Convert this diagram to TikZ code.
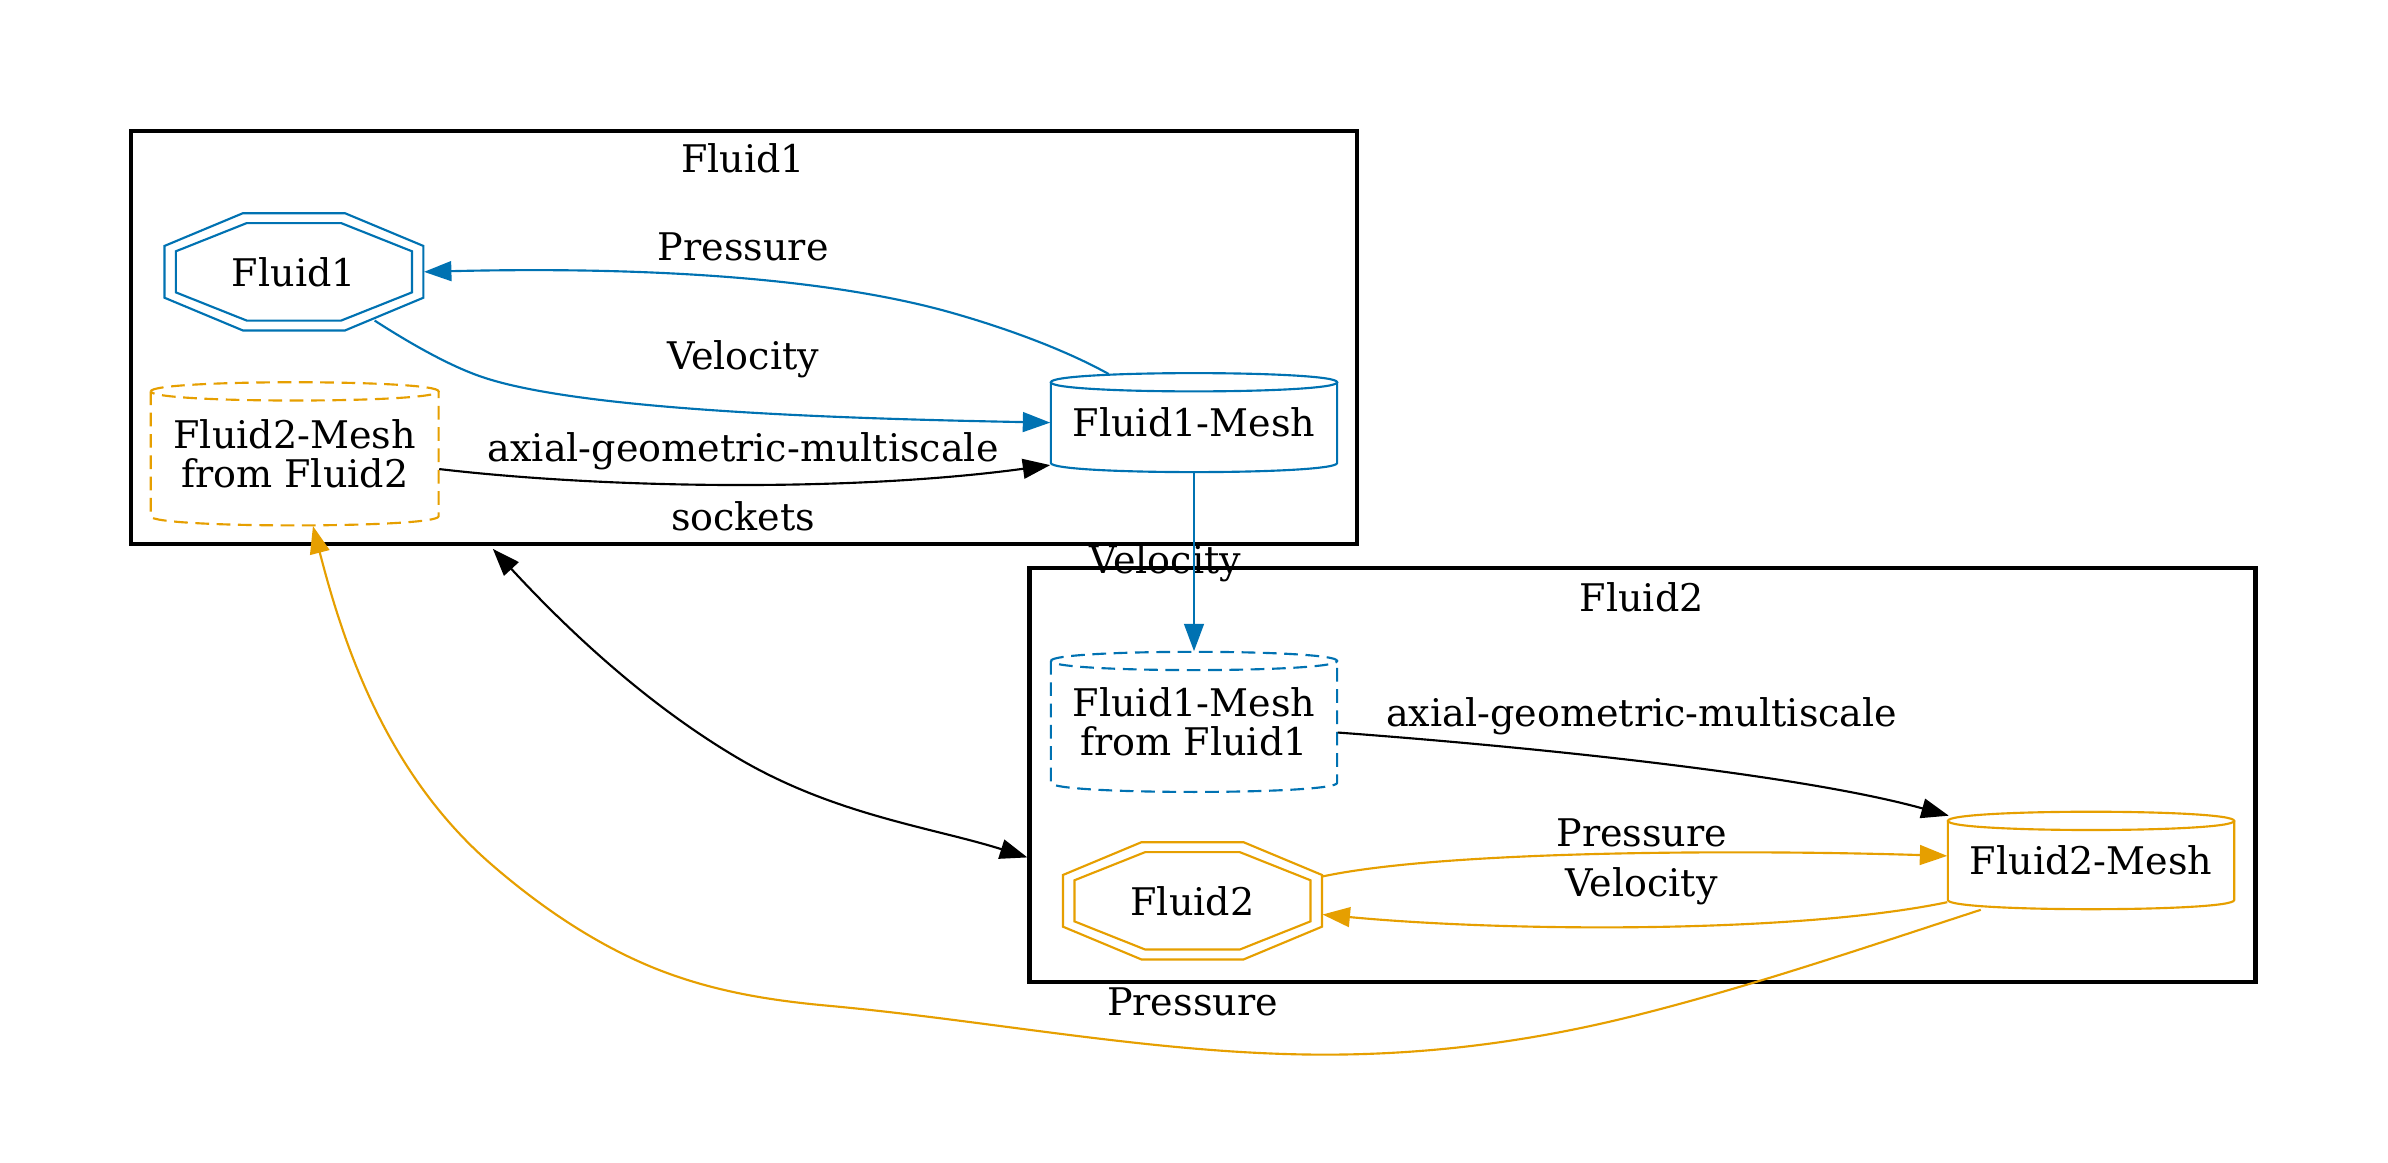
\documentclass[tikz,border=0pt]{standalone}
\usepackage{fontspec}
\setmainfont{DejaVu Serif}
\usetikzlibrary{arrows.meta,calc}
\definecolor{cblue}{HTML}{0072B2}
\definecolor{corange}{HTML}{E69F00}
\newcommand\mycyl[4]{%
 \draw[#4] ($(#1)+({-#2},{-#3+6})$) .. controls ($(#1)+({-#2},{-#3-2})$) and ($(#1)+({#2},{-#3-2})$) .. ($(#1)+({#2},{-#3+6})$) .. controls ($(#1)+({#2},{-#3+14})$) and ($(#1)+({-#2},{-#3+14})$) .. cycle;
 \draw[#4] ($(#1)+({-#2},{-#3+6})$) -- ($(#1)+({-#2},{#3-6})$) .. controls ($(#1)+({-#2},{#3+2})$) and ($(#1)+({#2},{#3+2})$) .. ($(#1)+({#2},{#3-6})$) -- ($(#1)+({#2},{-#3+6})$);
}
\newcommand\myocta[2]{%
 \draw[#2] ($(#1)+(-33.5,-38.5)$) -- ($(#1)+(33.5,-38.5)$) -- ($(#1)+(85,-17)$) -- ($(#1)+(85,17)$) -- ($(#1)+(33.5,38.5)$) -- ($(#1)+(-33.5,38.5)$) -- ($(#1)+(-85,17)$) -- ($(#1)+(-85,-17)$) -- cycle;
 \draw[#2] ($(#1)+(-31,-32)$) -- ($(#1)+(31,-32)$) -- ($(#1)+(77.5,-13.5)$) -- ($(#1)+(77.5,13.5)$) -- ($(#1)+(31,32)$) -- ($(#1)+(-31,32)$) -- ($(#1)+(-77.5,13.5)$) -- ($(#1)+(-77.5,-13.5)$) -- cycle;
}
\begin{document}
\begin{tikzpicture}[x=0.5pt,y=-0.5pt,
  txt/.style={inner sep=0pt,font=\fontsize{12.5}{13}\selectfont,align=center},
  box/.style={txt,shape=rectangle},
  cluster/.style={draw=black,line width=1.4pt,inner sep=0pt,shape=rectangle},
  edge/.style={line width=0.7pt,-{Triangle[length=9pt,width=6.5pt]}},
  bedge/.style={edge,draw=cblue,-{Triangle[length=9pt,width=6.5pt,fill=cblue]}},
  oedge/.style={edge,draw=corange,-{Triangle[length=9pt,width=6.5pt,fill=corange]}},
  bline/.style={draw=cblue,line width=0.7pt},
  oline/.style={draw=corange,line width=0.7pt},
  bdash/.style={bline,dash pattern=on 4.5pt off 2.5pt},
  odash/.style={oline,dash pattern=on 4.5pt off 2.5pt}]
\useasboundingbox[fill=white] (0,0) rectangle (1568,763);
% clusters
\node[cluster,minimum width=402.5pt,minimum height=135.5pt] (c1) at (488.5,221.5) {};
\node[cluster,minimum width=402.5pt,minimum height=136pt] (c2) at (1078.5,509) {};
\node[txt] (c1lab) at (488,104) {Fluid1};
\node[txt] (c2lab) at (1078,392) {Fluid2};
% nodes
\node[box,minimum width=85pt,minimum height=38.5pt] (f1) at (193,178.5) {Fluid1};
\node[box,minimum width=85pt,minimum height=39.5pt] (f2) at (783,591.5) {Fluid2};
\node[box,minimum width=94pt,minimum height=32.5pt] (m1) at (784,277.5) {Fluid1-Mesh};
\node[box,minimum width=94pt,minimum height=32pt] (m2) at (1373,565) {Fluid2-Mesh};
\node[box,minimum width=94.5pt,minimum height=47pt] (m2f) at (193.5,298) {Fluid2-Mesh\\from Fluid2};
\node[box,minimum width=94pt,minimum height=46pt] (m1f) at (784,474) {Fluid1-Mesh\\from Fluid1};
\myocta{f1}{bline}
\myocta{f2}{oline}
\mycyl{m1}{94}{32.5}{bline}
\mycyl{m2}{94}{32}{oline}
\mycyl{m2f}{94.5}{47}{odash}
\mycyl{m1f}{94}{46}{bdash}
% edge labels
\node[txt] (l1) at (488,162) {Pressure};
\node[txt] (l2) at (488,236) {Velocity};
\node[txt] (l3) at (488,296) {axial-geometric-multiscale};
\node[txt] (l4) at (488,339) {sockets};
\node[txt] (l5) at (765,370) {Velocity};
\node[txt] (l6) at (1078,470) {axial-geometric-multiscale};
\node[txt] (l7) at (1078,547) {Pressure};
\node[txt] (l8) at (1078,582) {Velocity};
\node[txt] (l9) at (783,658) {Pressure};
% edges
\draw[bedge] ($(m1.north)+(-56,1)$) .. controls (700,230) and (660,215) .. (620,204) .. controls (520,177) and (380,176) .. (f1.east);
\draw[bedge] ($(f1.center)+(53,32)$) .. controls (270,226) and (295,240) .. (315,247) .. controls (380,270) and (560,275) .. (m1.west);
\draw[edge] ($(m2f.east)+(0,10)$) .. controls (400,321) and (560,323) .. ($(m1.south west)+(0,-5)$);
\draw[bedge] (m1.south) -- (m1f.north);
\draw[edge] ($(m1f.east)+(0,7)$) .. controls (1000,490) and (1180,508) .. ($(m2.north west)+(1,3)$);
\draw[oedge] ($(f2.east)+(0,-16)$) .. controls (950,558) and (1150,558) .. ($(m2.west)+(0,-3)$);
\draw[oedge] ($(m2.south west)+(0,-5)$) .. controls (1180,613) and (990,612) .. ($(f2.east)+(0,9)$);
\draw[oedge] ($(m2.south west)+(22,0)$) .. controls (1225,622) and (1149,648) .. (1073,667)
  .. controls (1005,684) and (938,692.5) .. (870,692.5)
  .. controls (762,692.5) and (653,670.5) .. (545,660.5)
  .. controls (506,657) and (467,651) .. (428,635)
  .. controls (393,620.6) and (357,597.5) .. (322,567)
  .. controls (252.6,506.6) and (225.1,421.4) .. ($(m2f.south)+(12,0)$);
\draw[edge,{Triangle[length=9pt,width=6.5pt]}-{Triangle[length=9pt,width=6.5pt]}] ($(c1.south west)+(239,2)$) .. controls (380,421.5) and (431.6,467) .. (486.6,499) .. controls (549.6,535.5) and (613,543.5) .. ($(c2.west)+(0,54)$);
\end{tikzpicture}
\end{document}
